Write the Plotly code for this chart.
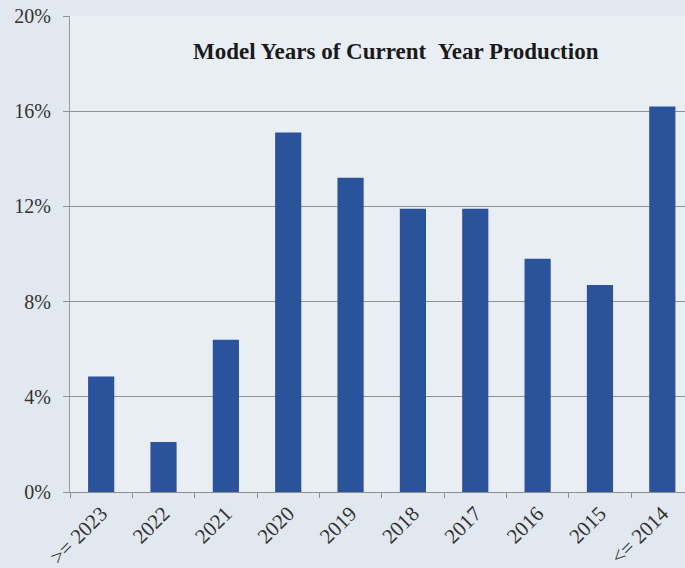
import plotly.graph_objects as go

# Share of current-year production by vehicle model year
model_years = [">= 2023", "2022", "2021", "2020", "2019", "2018",
               "2017", "2016", "2015", "<= 2014"]
share_pct = [4.85, 2.1, 6.4, 15.1, 13.2, 11.9, 11.9, 9.8, 8.7, 16.2]

y_tick_values = [0, 4, 8, 12, 16, 20]
y_tick_labels = ["0%", "4%", "8%", "12%", "16%", "20%"]

title_text = "Model Years of Current\u00a0\u00a0Year Production"

serif = "Liberation Serif, Times New Roman, serif"
grid_gray = "#8f8f8f"

fig = go.Figure(
    go.Bar(
        x=model_years,
        y=share_pct,
        marker=dict(color="#2b539c", line=dict(width=0)),
        width=0.42,
        hoverinfo="x+y",
    )
)

fig.update_layout(
    width=685,
    height=568,
    margin=dict(l=70, r=0, t=16, b=76),
    paper_bgcolor="#e2e8ef",
    plot_bgcolor="#e9eef4",
    showlegend=False,
    font=dict(family=serif, size=20, color="#3a3a3a"),
    annotations=[
        dict(
            text="<b>" + title_text + "</b>",
            xref="paper", yref="paper",
            x=0.53, y=0.925,
            xanchor="center", yanchor="middle",
            showarrow=False,
            font=dict(family=serif, size=23, color="#1a1a1a"),
        )
    ],
)

fig.update_xaxes(
    type="category",
    range=[-0.5, 9.364],
    showgrid=False,
    showline=True,
    linecolor=grid_gray,
    linewidth=1,
    ticks="outside",
    tickson="boundaries",
    ticklen=5,
    tickcolor=grid_gray,
    tickangle=-45,
    tickfont=dict(family=serif, size=21, color="#333333"),
    zeroline=False,
)

fig.update_yaxes(
    range=[0, 20],
    tickvals=y_tick_values,
    ticktext=y_tick_labels,
    showgrid=True,
    gridcolor=grid_gray,
    gridwidth=1,
    showline=True,
    linecolor="#9a9a9a",
    linewidth=1,
    ticks="outside",
    ticklen=6,
    tickcolor=grid_gray,
    ticklabelstandoff=8,
    tickfont=dict(family=serif, size=20, color="#333333"),
    zeroline=False,
)

fig.write_html("out.html")
